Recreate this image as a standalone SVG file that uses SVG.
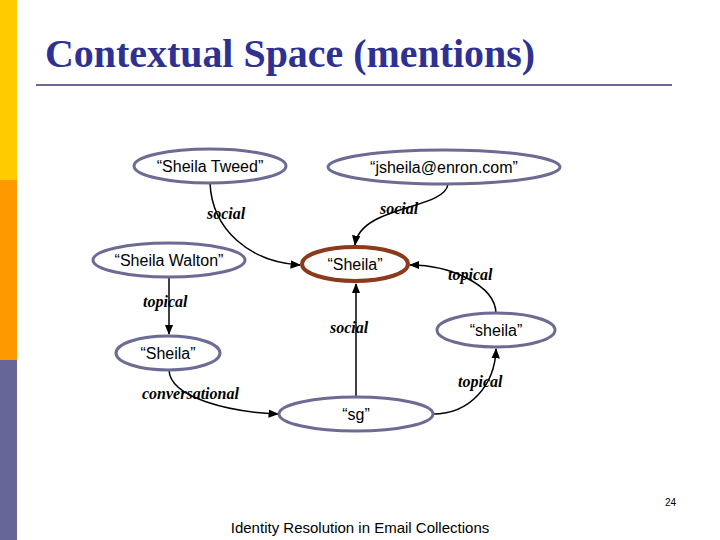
<svg xmlns="http://www.w3.org/2000/svg" width="720" height="540" viewBox="0 0 720 540">
<style>
.n{fill:#fff;stroke:#6b6b94;stroke-width:3}
.t{font-family:"Liberation Sans",Arial,sans-serif;font-size:16px;text-anchor:middle;fill:#000}
.l{font-family:"Liberation Serif","Times New Roman",serif;font-size:16px;font-style:italic;font-weight:bold;fill:#000}
.e{fill:none;stroke:#000;stroke-width:1.5;marker-end:url(#a)}
</style>
<defs><marker id="a" viewBox="0 0 10 10" refX="9" refY="5" markerWidth="7" markerHeight="7" orient="auto"><path d="M0,1 L10,5 L0,9 z" fill="#000"/></marker></defs>
<rect width="720" height="540" fill="#fff"/>
<rect x="0" y="0" width="17" height="180" fill="#ffcc00"/>
<rect x="0" y="180" width="17" height="180" fill="#ff9900"/>
<rect x="0" y="360" width="17" height="180" fill="#666699"/>
<text x="45" y="67" font-family="Liberation Serif,'Times New Roman',serif" font-size="39" font-weight="bold" fill="#2e3192" textLength="490" lengthAdjust="spacingAndGlyphs">Contextual Space (mentions)</text>
<line x1="36" y1="85" x2="672" y2="85" stroke="#6b6b94" stroke-width="2"/>
<g id="edges">
<path class="e" d="M210,183 C212,230 250,262 300,265"/>
<path class="e" d="M448,184 C445,210 360,205 355,245"/>
<path class="e" d="M169,277 L169,334"/>
<path class="e" d="M169,370 C170,398 230,412 278,414"/>
<path class="e" d="M356,397 L356,284"/>
<path class="e" d="M433,414 C470,414 495,385 496,349"/>
<path class="e" d="M496,313 C495,285 450,265 410,265"/>
<text class="l" x="207" y="219">social</text>
<text class="l" x="380" y="214">social</text>
<text class="l" x="448" y="280">topical</text>
<text class="l" x="143" y="307">topical</text>
<text class="l" x="330" y="333">social</text>
<text class="l" x="458" y="387">topical</text>
<text class="l" x="142" y="399">conversational</text>
</g>
<g id="tweed"><ellipse class="n" cx="210" cy="166" rx="76" ry="17"/><text class="t" x="210" y="172">“Sheila Tweed”</text></g>
<g id="jsheila"><ellipse class="n" cx="444" cy="167" rx="116" ry="17"/><text class="t" x="444" y="173">“jsheila@enron.com”</text></g>
<g id="walton"><ellipse class="n" cx="169" cy="260" rx="76" ry="17"/><text class="t" x="169" y="266">“Sheila Walton”</text></g>
<g id="sheilaC"><ellipse cx="355" cy="264" rx="53" ry="17" fill="#fff" stroke="#8b3a1a" stroke-width="4"/><text class="t" x="355" y="270">“Sheila”</text></g>
<g id="sheilaR"><ellipse class="n" cx="496" cy="330" rx="59" ry="17"/><text class="t" x="496" y="336">“sheila”</text></g>
<g id="sheilaL"><ellipse class="n" cx="168" cy="353" rx="52" ry="17"/><text class="t" x="168" y="359">“Sheila”</text></g>
<g id="sg"><ellipse class="n" cx="356" cy="414" rx="77" ry="17"/><text class="t" x="356" y="420">“sg”</text></g>
<text x="676" y="506" font-family="Liberation Sans,Arial,sans-serif" font-size="10" text-anchor="end">24</text>
<text x="360" y="533" font-family="Liberation Sans,Arial,sans-serif" font-size="15" text-anchor="middle">Identity Resolution in Email Collections</text>
</svg>
